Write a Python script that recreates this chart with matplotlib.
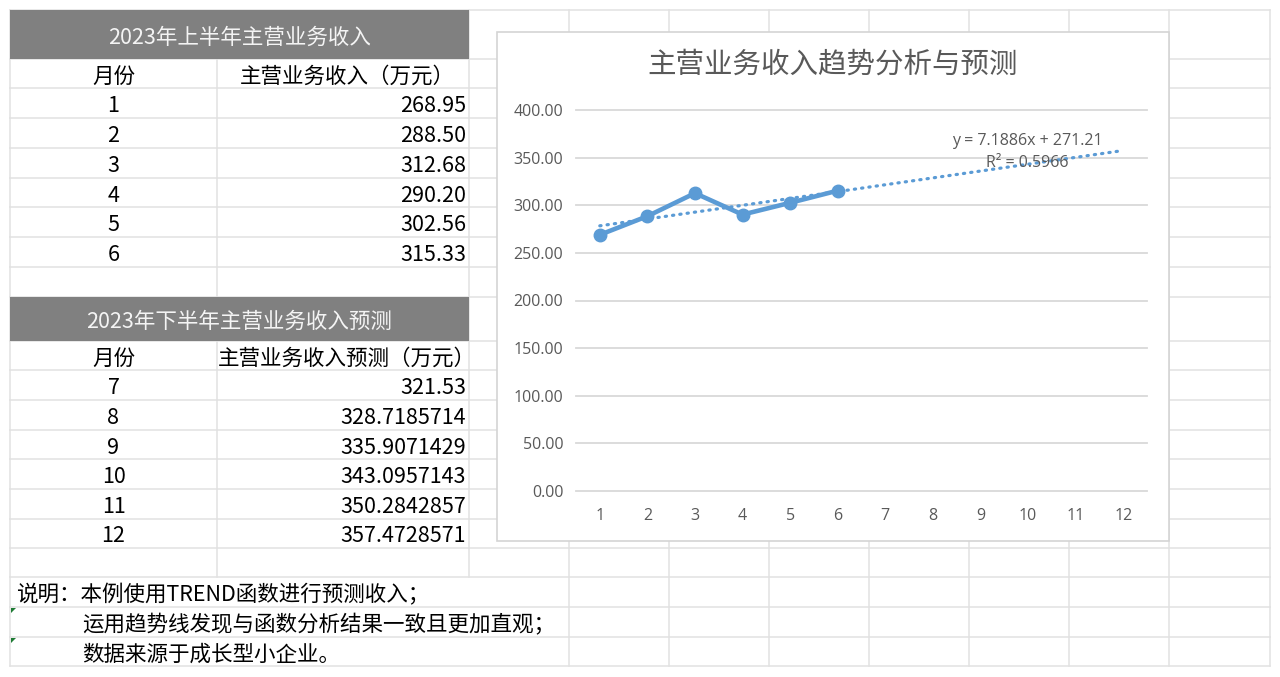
import matplotlib
matplotlib.use('Agg')
import matplotlib.pyplot as plt
from matplotlib.patches import Rectangle, Polygon
import numpy as np

plt.rcParams['font.family'] = ['Noto Sans CJK SC', 'DejaVu Sans']

# ---- data ----
months_h1 = [1, 2, 3, 4, 5, 6]
revenue_h1 = [268.95, 288.50, 312.68, 290.20, 302.56, 315.33]
revenue_h1_text = ['268.95', '288.50', '312.68', '290.20', '302.56', '315.33']
months_h2 = [7, 8, 9, 10, 11, 12]
forecast_h2 = [321.53, 328.7185714, 335.9071429, 343.0957143, 350.2842857, 357.4728571]
forecast_h2_text = ['321.53', '328.7185714', '335.9071429', '343.0957143',
                    '350.2842857', '357.4728571']
all_months = months_h1 + months_h2
y_ticks = [0, 50, 100, 150, 200, 250, 300, 350, 400]

title_h1 = '2023年上半年主营业务收入'
title_h2 = '2023年下半年主营业务收入预测'
col_month = '月份'
col_h1 = '主营业务收入（万元）'
col_h2 = '主营业务收入预测（万元）'
chart_title = '主营业务收入趋势分析与预测'
notes = ['说明：本例使用TREND函数进行预测收入；',
         '运用趋势线发现与函数分析结果一致且更加直观；',
         '数据来源于成长型小企业。']

# ---- sheet layout (pixels) ----
W, H = 1280, 677
cols = [10, 217, 469, 569, 669, 769, 869, 969, 1069, 1169, 1270]
rows = [10, 59, 88, 118, 148, 178, 207, 237, 267, 297, 341, 370, 400, 430,
        459, 489, 519, 548, 577, 607, 637, 666]
gridc = '#e2e2e2'
blue = '#5b9bd5'
txtgray = '#595959'

fig = plt.figure(figsize=(W / 100, H / 100), dpi=100)
bg = fig.add_axes([0, 0, 1, 1])
bg.set_xlim(0, W)
bg.set_ylim(H, 0)
bg.axis('off')

# horizontal grid lines
for y in rows:
    bg.plot([cols[0], cols[-1]], [y, y], color=gridc, lw=1.1, zorder=1)

# vertical grid lines, skipping merged cells
for ci, x in enumerate(cols):
    for ri in range(len(rows) - 1):
        y0, y1 = rows[ri], rows[ri + 1]
        if ri in (0, 9) and ci == 1:
            continue
        if ri >= 18 and ci in (1, 2):
            continue
        bg.plot([x, x], [y0, y1], color=gridc, lw=1.1, zorder=1)

# gray header cells
for ri, t in [(0, title_h1), (9, title_h2)]:
    y0, y1 = rows[ri], rows[ri + 1]
    bg.add_patch(Rectangle((cols[0], y0), cols[2] - cols[0], y1 - y0,
                           facecolor='#808080', edgecolor='none', zorder=2))
    bg.text((cols[0] + cols[2]) / 2, (y0 + y1) / 2 + 3, t, color='#f4f4f4',
            fontsize=15.5, ha='center', va='center', zorder=3)

def row_mid(ri):
    return (rows[ri] + rows[ri + 1]) / 2 + 3

cx_a = (cols[0] + cols[1]) / 2
cx_b = (cols[1] + cols[2]) / 2
for ri, head, ms, vals in [(1, col_h1, months_h1, revenue_h1_text),
                           (10, col_h2, months_h2, forecast_h2_text)]:
    bg.text(cx_a, row_mid(ri), col_month, fontsize=15.5, ha='center', va='center')
    bg.text(cx_b + 4, row_mid(ri), head, fontsize=15.5, ha='center', va='center')
    for k, (m, v) in enumerate(zip(ms, vals)):
        bg.text(cx_a, row_mid(ri + 1 + k), str(m), fontsize=15.5,
                ha='center', va='center')
        bg.text(cols[2] - 3, row_mid(ri + 1 + k), v, fontsize=15.5,
                ha='right', va='center')

# notes
bg.text(16, row_mid(18), notes[0], fontsize=15.5, ha='left', va='center')
bg.text(82, row_mid(19), notes[1], fontsize=15.5, ha='left', va='center')
bg.text(82, row_mid(20), notes[2], fontsize=15.5, ha='left', va='center')
for ri in (19, 20):
    y = rows[ri] + 1
    bg.add_patch(Polygon([(11, y), (16, y), (11, y + 5)], closed=True,
                         facecolor='#1e7b34', edgecolor='none', zorder=3))

# chart box
bg.add_patch(Rectangle((497, 32), 1169 - 497, 541 - 32, facecolor='white',
                       edgecolor='#d4d4d4', lw=1.2, zorder=5))
bg.text(833, 65, chart_title, fontsize=20.5, color=txtgray, ha='center',
        va='center', zorder=6)

# ---- chart ----
px0, px1, py0, py1 = 576, 1147, 110, 491
ax = fig.add_axes([px0 / W, (H - py1) / H, (px1 - px0) / W, (py1 - py0) / H])
ax.set_facecolor('none')
ax.set_xlim(0.5, 12.5)
ax.set_ylim(0, 400)
for s in ax.spines.values():
    s.set_visible(False)
for yt in y_ticks:
    ax.axhline(yt, color='#d9d9d9', lw=1.3, clip_on=False, zorder=0)

ax.set_xticks(all_months)
ax.set_xticklabels([str(m) for m in all_months])
ax.set_yticks(y_ticks)
ax.set_yticklabels(['%.2f' % v for v in y_ticks])
ax.tick_params(length=0, labelcolor=txtgray, labelsize=11.5)
ax.tick_params(axis='y', pad=9)
ax.tick_params(axis='x', pad=12)
for lab in ax.get_xticklabels() + ax.get_yticklabels():
    lab.set_family('Open Sans')

# linear trendline fitted on the first half
k, b = np.polyfit(months_h1, revenue_h1, 1)
xs = np.array(all_months, dtype=float)
ax.plot(xs, k * xs + b, color=blue, lw=2.3, linestyle=(0, (0.4, 1.9)),
        dash_capstyle='round', zorder=3)
ax.plot(months_h1, revenue_h1, color=blue, lw=3.3, marker='o', markersize=9,
        zorder=4)

ax.text(9.98, 367, 'y = %.4fx + %.2f' % (k, b), family='Open Sans',
        fontsize=11.5, color=txtgray, ha='center', va='center')
ax.text(9.98, 344.5, 'R² = 0.5966', family='Open Sans', fontsize=11.5,
        color=txtgray, ha='center', va='center')

fig.savefig('out.png', dpi=100)
